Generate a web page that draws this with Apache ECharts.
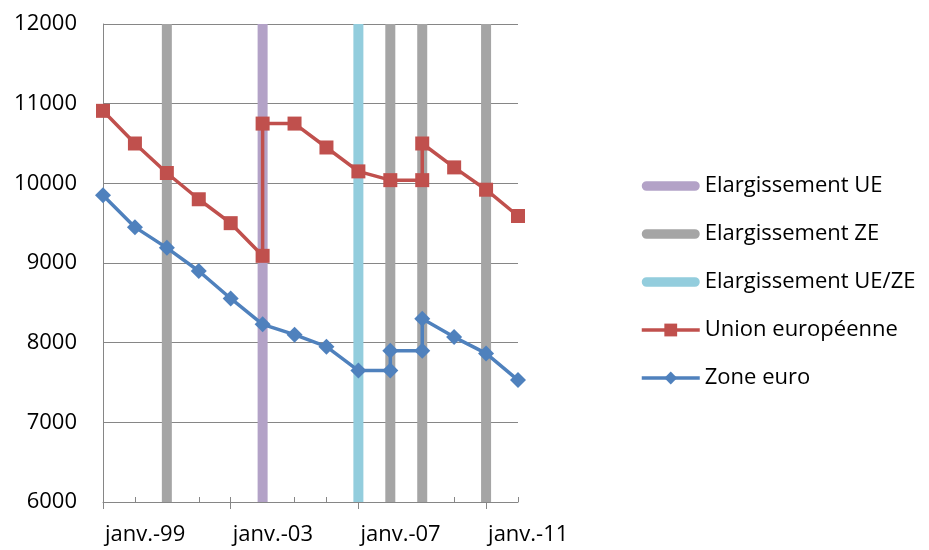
<!DOCTYPE html>
<html>
<head>
<meta charset="utf-8">
<script src="https://cdn.jsdelivr.net/npm/echarts@6/dist/echarts.min.js"></script>
<style>
html,body{margin:0;padding:0;background:#fff;}
#chart{width:929px;height:550px;}
</style>
</head>
<body>
<div id="chart"></div>
<script>
// ---- data ----
const baseYear = 1999;
const ueDates  = [1999, 2000, 2001, 2002, 2003, 2004, 2004, 2005, 2006, 2007, 2008, 2009, 2009, 2010, 2011, 2012];
const ueValues = [10910, 10500, 10130, 9800, 9500, 9090, 10750, 10750, 10450, 10150, 10040, 10040, 10500, 10200, 9920, 9590];
const zeDates  = [1999, 2000, 2001, 2002, 2003, 2004, 2005, 2006, 2007, 2008, 2008, 2009, 2009, 2010, 2011, 2012];
const zeValues = [9850, 9450, 9190, 8900, 8555, 8230, 8100, 7950, 7650, 7650, 7900, 7900, 8300, 8070, 7865, 7530];
const enlargeUE   = [2004];
const enlargeZE   = [2001, 2008, 2009, 2011];
const enlargeUEZE = [2007];
const yMin = 6000, yMax = 12000, yStep = 1000;
const xStart = 1999, xEnd = 2012, xLabelStep = 4;
const labelPrefix = 'janv.-';

// ---- build ----
const font = 'Open Sans';
const axisGray = '#868686';
const pairs = (d, v) => d.map((x, i) => [x - baseYear, v[i]]);
const barSeries = (name, years, color) => years.map(y => ({
  name: name, type: 'line', symbol: 'none', silent: true, z: 1,
  lineStyle: {color: color, width: 10, cap: 'butt'},
  itemStyle: {color: color},
  data: [[y - baseYear, yMin], [y - baseYear, yMax]]
}));
const pillIcon = 'path://M5,0 L55,0 A5,5 0 0 1 55,10 L5,10 A5,5 0 0 1 5,0 Z';

const option = {
  animation: false,
  backgroundColor: '#fff',
  grid: {left: 103, right: 411, top: 24, bottom: 48, containLabel: false, outerBoundsMode: 'none'},
  legend: {
    orient: 'vertical', left: 640, top: 174, itemWidth: 58, itemHeight: 16, itemGap: 24,
    padding: 0, selectedMode: false,
    textStyle: {fontFamily: font, fontSize: 22, color: '#000', lineHeight: 24},
    data: [
      {name: 'Elargissement UE', icon: pillIcon, itemStyle: {color: '#B3A2C7'}},
      {name: 'Elargissement ZE', icon: pillIcon, itemStyle: {color: '#A5A5A5'}},
      {name: 'Elargissement UE/ZE', icon: pillIcon, itemStyle: {color: '#93CDDD'}},
      {name: 'Union européenne', lineStyle: {width: 3.5}},
      {name: 'Zone euro', lineStyle: {width: 3.5}}
    ]
  },
  xAxis: [{
    type: 'value', min: xStart - baseYear, max: xEnd - baseYear, interval: xLabelStep,
    position: 'bottom',
    axisLine: {show: true, lineStyle: {color: axisGray, width: 1}},
    axisTick: {show: true, inside: false, length: 7, lineStyle: {color: axisGray}},
    splitLine: {show: false},
    axisLabel: {
      fontFamily: font, fontSize: 22, color: '#000', align: 'left', margin: 22, padding: [0,0,0,2],
      formatter: v => labelPrefix + String(v + baseYear).slice(2)
    }
  }, {
    type: 'value', min: xStart - baseYear, max: xEnd - baseYear, interval: 1,
    position: 'bottom', offset: 0,
    axisLine: {show: false},
    axisTick: {show: true, inside: true, length: 5, lineStyle: {color: axisGray}},
    splitLine: {show: false},
    axisLabel: {show: false}
  }],
  yAxis: {
    type: 'value', min: yMin, max: yMax, interval: yStep,
    axisLine: {show: true, lineStyle: {color: axisGray, width: 1}},
    axisTick: {show: false},
    splitLine: {show: true, lineStyle: {color: axisGray, width: 1}},
    axisLabel: {fontFamily: font, fontSize: 22, color: '#000', margin: 26, formatter: v => String(v)}
  },
  series: [
    ...barSeries('Elargissement UE', enlargeUE, '#B3A2C7'),
    ...barSeries('Elargissement ZE', enlargeZE, '#A5A5A5'),
    ...barSeries('Elargissement UE/ZE', enlargeUEZE, '#93CDDD'),
    {
      name: 'Union européenne', type: 'line', z: 3,
      symbol: 'rect', symbolSize: 14,
      lineStyle: {color: '#C0504D', width: 3.5},
      itemStyle: {color: '#C0504D'},
      data: pairs(ueDates, ueValues)
    },
    {
      name: 'Zone euro', type: 'line', z: 3,
      symbol: 'diamond', symbolSize: 16,
      lineStyle: {color: '#4F81BD', width: 3.5},
      itemStyle: {color: '#4F81BD'},
      data: pairs(zeDates, zeValues)
    }
  ]
};
const chart = echarts.init(document.getElementById('chart'), null, {renderer: 'canvas'});
chart.setOption(option);
</script>
</body>
</html>
